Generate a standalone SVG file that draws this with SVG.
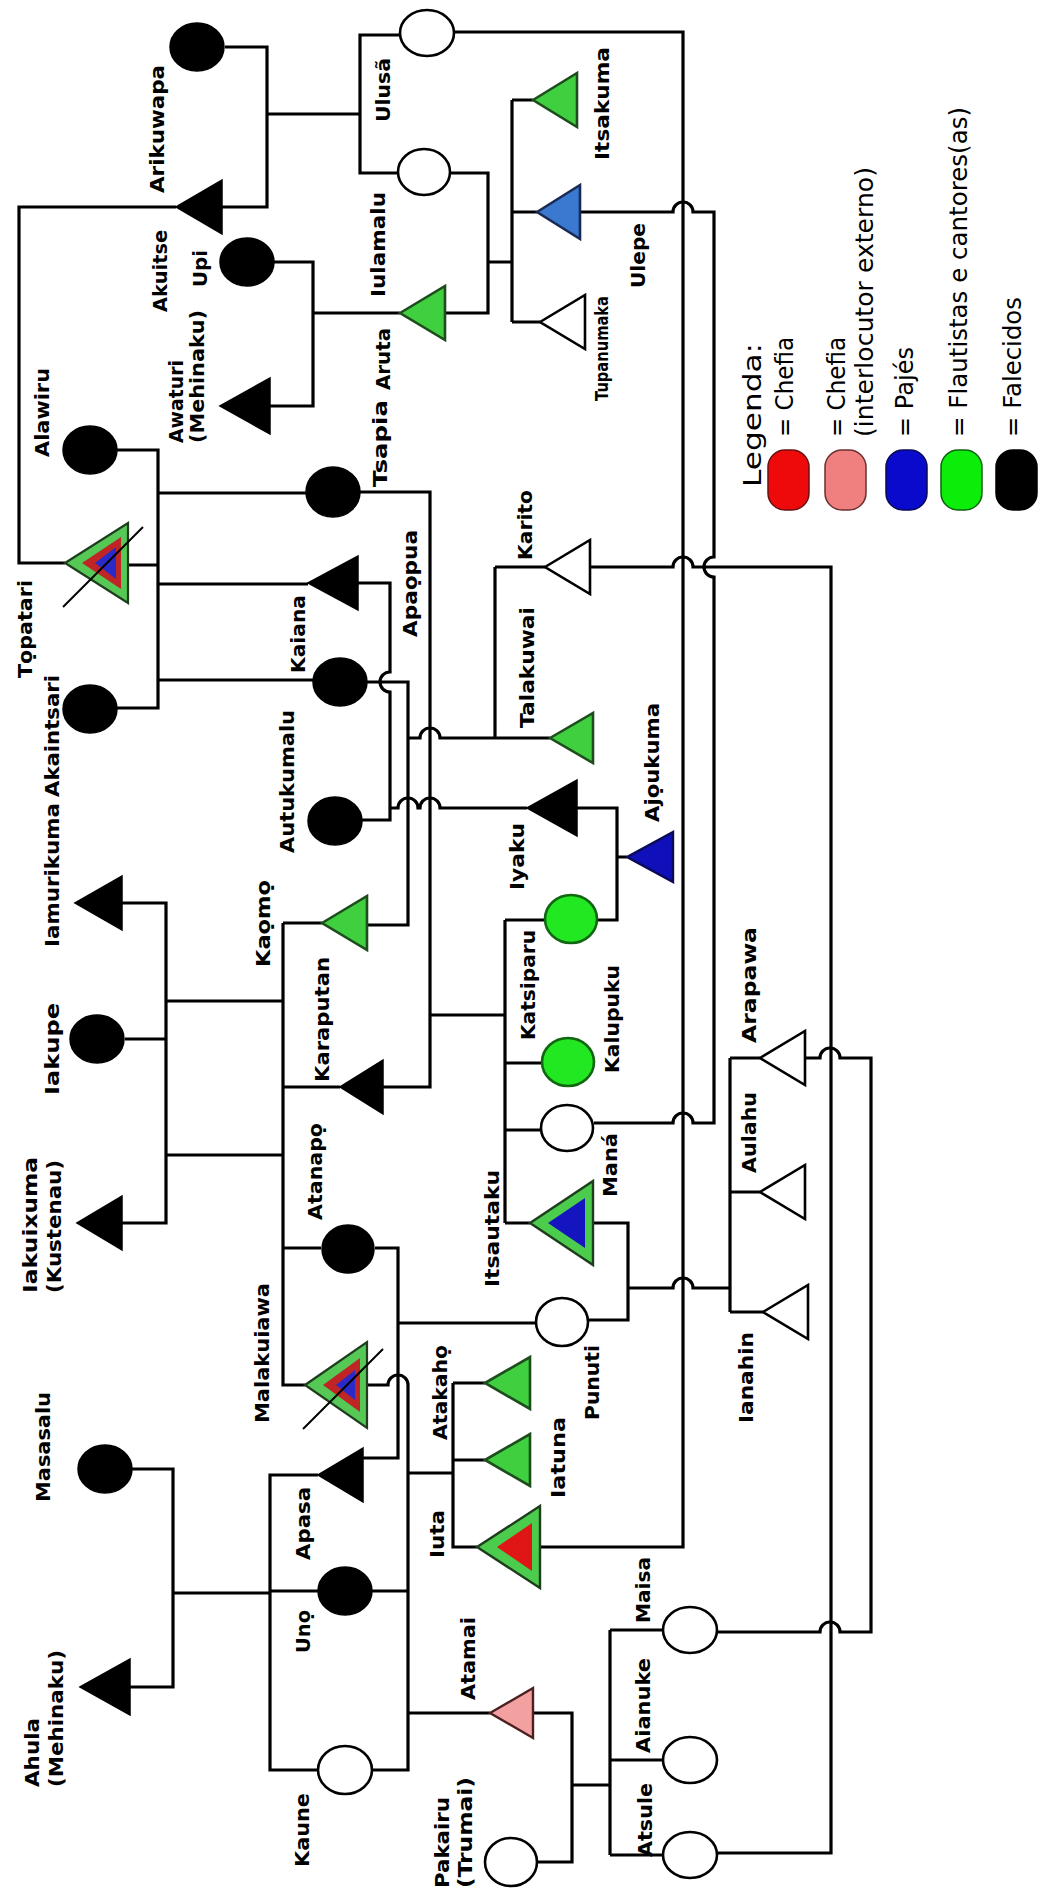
<svg xmlns="http://www.w3.org/2000/svg" width="1043" height="1890" viewBox="0 0 1043 1890">
<style>
.ln{fill:none;stroke:#000;stroke-width:3.2}
.blk{fill:#000;stroke:#000;stroke-width:1.5}
.wht{fill:#fff;stroke:#000;stroke-width:2.6}
.grn{fill:#3fcf3f;stroke:#1d4d1d;stroke-width:2.6}
.gc{fill:#22e822;stroke:#116611;stroke-width:2.6}
.lbl{font-family:"DejaVu Sans","Liberation Sans",sans-serif;font-weight:bold;font-size:20px;fill:#000}
.sm{font-size:18px}
.leg{font-family:"DejaVu Sans","Liberation Sans",sans-serif;font-size:24px;fill:#000}
.dg{stroke:#000;stroke-width:2}
</style>
<rect width="1043" height="1890" fill="#fff"/>
<g id="connectors">
<path class="ln" d="M225,47 H267 V207 H222 M267,114 H360 M400,35 H360 V173 H398 M176,207 H19 V563 H65 M274,262 H313 V406 H270 M313,313 H400 M451,173 H488 V313 H445 M488,262 H512 M512,100 V322 M512,100 H533 M512,212 H537 M512,322 H540"/>
<path class="ln" d="M454,32 H683 V1547 H540"/>
<path class="ln" d="M580,212 H673 A10,10 0 0 1 693,212 H714 V557 A10,10 0 0 0 714,577 V1123 H693 A10,10 0 0 0 673,1123 H594"/>
<path class="ln" d="M590,567 H673 A10,10 0 0 1 693,567 H831 V1853 H717"/>
<path class="ln" d="M117,450 H158 V708 H117 M128,565 H158 M158,493 H306 M158,584 H308 M158,680 H313"/>
<path class="ln" d="M360,492 H430 V1087 H383"/>
<path class="ln" d="M358,583 H390 V672 A10,10 0 0 0 390,692 V820 H362"/>
<path class="ln" d="M367,682 H408 V925 H367"/>
<path class="ln" d="M408,738 H420 A10,10 0 0 1 440,738 H550 M495,567 V738 M495,567 H545"/>
<path class="ln" d="M390,808 H398 A10,10 0 0 1 418,808 H420 A10,10 0 0 1 440,808 H527"/>
<path class="ln" d="M577,808 H617 V920 H598 M617,857 H627"/>
<path class="ln" d="M430,1015 H505 M505,920 V1223 M505,920 H544 M505,1063 H541 M505,1130 H540 M505,1223 H530"/>
<path class="ln" d="M593,1223 H628 V1320 H589"/>
<path class="ln" d="M628,1288 H673 A10,10 0 0 1 693,1288 H730 M730,1058 V1312 M730,1058 H760 M730,1192 H760 M730,1312 H763"/>
<path class="ln" d="M805,1058 H820 A10,10 0 0 1 840,1058 H871 V1632 H840 A10,10 0 0 0 820,1632 H717"/>
<path class="ln" d="M122,903 H166 V1223 H122 M125,1039 H166 M166,1001 H283 M166,1155 H283"/>
<path class="ln" d="M283,923 V1385 H305 M283,923 H322 M283,1087 H340 M283,1248 H321"/>
<path class="ln" d="M375,1248 H398 V1458 H363 M398,1323 H535"/>
<path class="ln" d="M367,1385 H388 A10,10 0 0 1 408,1385 V1770 H372 M408,1591 H372 M408,1713 H490 M408,1473 H453"/>
<path class="ln" d="M453,1383 V1547 H477 M453,1383 H485 M453,1460 H485"/>
<path class="ln" d="M132,1469 H173 V1687 H130 M173,1593 H270 M318,1475 H270 V1770 H318 M270,1591 H318"/>
<path class="ln" d="M533,1713 H572 V1862 H538 M572,1785 H610 M610,1630 V1855 M610,1630 H663 M610,1760 H663 M610,1855 H663"/>
</g>
<g id="arikuwapa"><ellipse class="blk" cx="197" cy="47" rx="27" ry="24"/><text class="lbl" transform="rotate(-90)" x="-193" y="164" textLength="128" lengthAdjust="spacingAndGlyphs">Arikuwapa</text></g>
<g id="akuitse"><polygon class="blk" points="176,207 222,180 222,234"/><text class="lbl" transform="rotate(-90)" x="-312" y="167" textLength="82" lengthAdjust="spacingAndGlyphs">Akuitse</text></g>
<g id="upi"><ellipse class="blk" cx="247" cy="262" rx="27" ry="24"/><text class="lbl" transform="rotate(-90)" x="-287" y="207" textLength="37" lengthAdjust="spacingAndGlyphs">Upi</text></g>
<g id="awaturi"><polygon class="blk" points="220,406 270,378 270,434"/><text class="lbl" transform="rotate(-90)" x="-443" y="183" textLength="83" lengthAdjust="spacingAndGlyphs">Awaturi</text><text class="lbl" transform="rotate(-90)" x="-443" y="204" textLength="133" lengthAdjust="spacingAndGlyphs">(Mehinaku)</text></g>
<g id="alawiru"><ellipse class="blk" cx="90" cy="450" rx="27" ry="24"/><text class="lbl" transform="rotate(-90)" x="-457" y="49" textLength="89" lengthAdjust="spacingAndGlyphs">Alawiru</text></g>
<g id="ulusa"><ellipse class="wht" cx="427" cy="33" rx="27" ry="23"/><text class="lbl" transform="rotate(-90)" x="-122" y="390" textLength="64" lengthAdjust="spacingAndGlyphs">Ulusã</text></g>
<g id="iulamalu"><ellipse class="wht" cx="424" cy="172" rx="26" ry="23"/><text class="lbl" transform="rotate(-90)" x="-297" y="385" textLength="105" lengthAdjust="spacingAndGlyphs">Iulamalu</text></g>
<g id="aruta"><polygon class="grn" points="400,313 445,286 445,340"/><text class="lbl" transform="rotate(-90)" x="-390" y="390" textLength="62" lengthAdjust="spacingAndGlyphs">Aruta</text></g>
<g id="itsakuma"><polygon class="grn" points="533,100 577,73 577,127"/><text class="lbl" transform="rotate(-90)" x="-160" y="609" textLength="113" lengthAdjust="spacingAndGlyphs">Itsakuma</text></g>
<g id="ulepe"><polygon fill="#3b78d0" stroke="#1a2a55" stroke-width="2.6" points="537,212 580,185 580,239"/><text class="lbl" transform="rotate(-90)" x="-288" y="645" textLength="65" lengthAdjust="spacingAndGlyphs">Ulepe</text></g>
<g id="tupanumaka"><polygon class="wht" points="540,322 585,295 585,349"/><text class="lbl sm" transform="rotate(-90)" x="-401" y="608" textLength="105" lengthAdjust="spacingAndGlyphs">Tupanumaka</text></g>
<g id="tsapia"><ellipse class="blk" cx="333" cy="492" rx="27" ry="25"/><text class="lbl" transform="rotate(-90)" x="-487" y="387" textLength="87" lengthAdjust="spacingAndGlyphs">Tsapia</text></g>
<g id="topatari"><polygon fill="#55c855" stroke="#1d3d1d" stroke-width="2.2" points="65,563 128,523 128,603"/><polygon fill="#c02525" points="82,563 121,537 121,589"/><polygon fill="#2a2ac8" points="95,563 116,547 116,579"/><line class="dg" x1="63" y1="607" x2="143" y2="527"/><text class="lbl" transform="rotate(-90)" x="-678" y="32" textLength="98" lengthAdjust="spacingAndGlyphs">Tọpatari</text></g>
<g id="akaintsari"><ellipse class="blk" cx="90" cy="709" rx="27" ry="24"/><text class="lbl" transform="rotate(-90)" x="-797" y="59" textLength="122" lengthAdjust="spacingAndGlyphs">Akaintsari</text></g>
<g id="iamurikuma"><polygon class="blk" points="75,903 122,876 122,930"/><text class="lbl" transform="rotate(-90)" x="-947" y="59" textLength="144" lengthAdjust="spacingAndGlyphs">Iamurikuma</text></g>
<g id="apaqpua"><polygon class="blk" points="308,583 358,556 358,610"/><text class="lbl" transform="rotate(-90)" x="-637" y="417" textLength="107" lengthAdjust="spacingAndGlyphs">Apaọpua</text></g>
<g id="kaiana"><ellipse class="blk" cx="340" cy="682" rx="27" ry="24"/><text class="lbl" transform="rotate(-90)" x="-673" y="305" textLength="78" lengthAdjust="spacingAndGlyphs">Kaiana</text></g>
<g id="autukumalu"><ellipse class="blk" cx="335" cy="821" rx="27" ry="24"/><text class="lbl" transform="rotate(-90)" x="-853" y="294" textLength="143" lengthAdjust="spacingAndGlyphs">Autukumalu</text></g>
<g id="kaomo"><polygon class="grn" points="322,923 367,896 367,950"/><text class="lbl" transform="rotate(-90)" x="-967" y="270" textLength="87" lengthAdjust="spacingAndGlyphs">Kaọmọ</text></g>
<g id="karito"><polygon class="wht" points="545,567 590,540 590,594"/><text class="lbl" transform="rotate(-90)" x="-560" y="532" textLength="70" lengthAdjust="spacingAndGlyphs">Karito</text></g>
<g id="talakuwai"><polygon class="grn" points="550,738 593,713 593,763"/><text class="lbl" transform="rotate(-90)" x="-728" y="534" textLength="121" lengthAdjust="spacingAndGlyphs">Talakuwai</text></g>
<g id="iyaku"><polygon class="blk" points="527,808 577,780 577,836"/><text class="lbl" transform="rotate(-90)" x="-890" y="524" textLength="67" lengthAdjust="spacingAndGlyphs">Iyaku</text></g>
<g id="ajoukuma"><polygon fill="#1010bb" stroke="#0a0a55" stroke-width="2.4" points="627,857 673,832 673,882"/><text class="lbl" transform="rotate(-90)" x="-822" y="659" textLength="119" lengthAdjust="spacingAndGlyphs">Ajọukuma</text></g>
<g id="katsiparu"><ellipse class="gc" cx="571" cy="919" rx="26" ry="24"/><text class="lbl" transform="rotate(-90)" x="-1040" y="535" textLength="110" lengthAdjust="spacingAndGlyphs">Katsiparu</text></g>
<g id="iakupe"><ellipse class="blk" cx="97" cy="1039" rx="27" ry="24"/><text class="lbl" transform="rotate(-90)" x="-1095" y="59" textLength="92" lengthAdjust="spacingAndGlyphs">Iakupe</text></g>
<g id="iakuixuma"><polygon class="blk" points="77,1223 122,1196 122,1250"/><text class="lbl" transform="rotate(-90)" x="-1293" y="37" textLength="136" lengthAdjust="spacingAndGlyphs">Iakuixuma</text><text class="lbl" transform="rotate(-90)" x="-1293" y="61" textLength="133" lengthAdjust="spacingAndGlyphs">(Kustenau)</text></g>
<g id="karaputan"><polygon class="blk" points="340,1087 383,1060 383,1114"/><text class="lbl" transform="rotate(-90)" x="-1082" y="329" textLength="125" lengthAdjust="spacingAndGlyphs">Karaputan</text></g>
<g id="kalupuku"><ellipse class="gc" cx="568" cy="1062" rx="26" ry="24"/><text class="lbl" transform="rotate(-90)" x="-1073" y="619" textLength="108" lengthAdjust="spacingAndGlyphs">Kalupuku</text></g>
<g id="mana"><ellipse class="wht" cx="567" cy="1128" rx="26" ry="23"/><text class="lbl" transform="rotate(-90)" x="-1197" y="617" textLength="64" lengthAdjust="spacingAndGlyphs">Maná</text></g>
<g id="atanapo"><ellipse class="blk" cx="348" cy="1249" rx="26" ry="24"/><text class="lbl" transform="rotate(-90)" x="-1220" y="322" textLength="97" lengthAdjust="spacingAndGlyphs">Atanapọ</text></g>
<g id="itsautaku"><polygon fill="#4ccc4c" stroke="#1d3d1d" stroke-width="2.4" points="530,1223 593,1181 593,1265"/><polygon fill="#1515c0" points="548,1223 585,1198 585,1248"/><text class="lbl" transform="rotate(-90)" x="-1287" y="499" textLength="117" lengthAdjust="spacingAndGlyphs">Itsautaku</text></g>
<g id="punuti"><ellipse class="wht" cx="562" cy="1322" rx="26" ry="24"/><text class="lbl" transform="rotate(-90)" x="-1420" y="599" textLength="75" lengthAdjust="spacingAndGlyphs">Punuti</text></g>
<g id="arapawa"><polygon class="wht" points="760,1058 805,1031 805,1085"/><text class="lbl" transform="rotate(-90)" x="-1043" y="756" textLength="116" lengthAdjust="spacingAndGlyphs">Arapawa</text></g>
<g id="aulahu"><polygon class="wht" points="760,1192 805,1165 805,1219"/><text class="lbl" transform="rotate(-90)" x="-1173" y="756" textLength="81" lengthAdjust="spacingAndGlyphs">Aulahu</text></g>
<g id="ianahin"><polygon class="wht" points="763,1312 808,1285 808,1339"/><text class="lbl" transform="rotate(-90)" x="-1423" y="753" textLength="91" lengthAdjust="spacingAndGlyphs">Ianahin</text></g>
<g id="malakuiawa"><polygon fill="#55c855" stroke="#1d3d1d" stroke-width="2.2" points="305,1385 367,1342 367,1428"/><polygon fill="#c02525" points="323,1385 360,1358 360,1412"/><polygon fill="#2a2ac8" points="336,1385 355,1370 355,1400"/><line class="dg" x1="303" y1="1429" x2="383" y2="1349"/><text class="lbl" transform="rotate(-90)" x="-1423" y="269" textLength="140" lengthAdjust="spacingAndGlyphs">Malakuiawa</text></g>
<g id="atakaho"><polygon class="grn" points="485,1383 530,1357 530,1409"/><text class="lbl" transform="rotate(-90)" x="-1440" y="447" textLength="95" lengthAdjust="spacingAndGlyphs">Atakahọ</text></g>
<g id="iatuna"><polygon class="grn" points="485,1460 530,1434 530,1486"/><text class="lbl" transform="rotate(-90)" x="-1498" y="565" textLength="81" lengthAdjust="spacingAndGlyphs">Iatuna</text></g>
<g id="iuta"><polygon fill="#4ccc4c" stroke="#1d3d1d" stroke-width="2.4" points="477,1547 540,1506 540,1588"/><polygon fill="#e01515" points="497,1547 532,1523 532,1571"/><text class="lbl" transform="rotate(-90)" x="-1558" y="444" textLength="48" lengthAdjust="spacingAndGlyphs">Iuta</text></g>
<g id="masasalu"><ellipse class="blk" cx="105" cy="1469" rx="27" ry="24"/><text class="lbl" transform="rotate(-90)" x="-1502" y="50" textLength="110" lengthAdjust="spacingAndGlyphs">Masasalu</text></g>
<g id="ahula"><polygon class="blk" points="80,1687 130,1659 130,1715"/><text class="lbl" transform="rotate(-90)" x="-1787" y="39" textLength="69" lengthAdjust="spacingAndGlyphs">Ahula</text><text class="lbl" transform="rotate(-90)" x="-1787" y="63" textLength="137" lengthAdjust="spacingAndGlyphs">(Mehinaku)</text></g>
<g id="apasa"><polygon class="blk" points="318,1475 363,1448 363,1502"/><text class="lbl" transform="rotate(-90)" x="-1560" y="310" textLength="73" lengthAdjust="spacingAndGlyphs">Apasa</text></g>
<g id="uno"><ellipse class="blk" cx="345" cy="1591" rx="27" ry="24"/><text class="lbl" transform="rotate(-90)" x="-1653" y="310" textLength="43" lengthAdjust="spacingAndGlyphs">Unọ</text></g>
<g id="kaune"><ellipse class="wht" cx="345" cy="1770" rx="27" ry="24"/><text class="lbl" transform="rotate(-90)" x="-1867" y="309" textLength="74" lengthAdjust="spacingAndGlyphs">Kaune</text></g>
<g id="atamai"><polygon fill="#f2a0a0" stroke="#4a2020" stroke-width="2.4" points="490,1713 533,1688 533,1738"/><text class="lbl" transform="rotate(-90)" x="-1700" y="475" textLength="83" lengthAdjust="spacingAndGlyphs">Atamai</text></g>
<g id="pakairu"><ellipse class="wht" cx="511" cy="1862" rx="26" ry="24"/><text class="lbl" transform="rotate(-90)" x="-1888" y="449" textLength="91" lengthAdjust="spacingAndGlyphs">Pakairu</text><text class="lbl" transform="rotate(-90)" x="-1888" y="472" textLength="111" lengthAdjust="spacingAndGlyphs">(Trumai)</text></g>
<g id="maisa"><ellipse class="wht" cx="690" cy="1630" rx="27" ry="23"/><text class="lbl" transform="rotate(-90)" x="-1623" y="650" textLength="66" lengthAdjust="spacingAndGlyphs">Maisa</text></g>
<g id="aianuke"><ellipse class="wht" cx="690" cy="1760" rx="27" ry="23"/><text class="lbl" transform="rotate(-90)" x="-1753" y="650" textLength="95" lengthAdjust="spacingAndGlyphs">Aianuke</text></g>
<g id="atsule"><ellipse class="wht" cx="690" cy="1855" rx="27" ry="23"/><text class="lbl" transform="rotate(-90)" x="-1857" y="652" textLength="74" lengthAdjust="spacingAndGlyphs">Atsule</text></g>
<g id="legend">
<text class="leg" transform="rotate(-90)" x="-487" y="761" textLength="144" lengthAdjust="spacingAndGlyphs">Legenda:</text>
<rect x="768" y="450" width="41" height="60" rx="17" fill="#ee0a0a" stroke="#6a1010" stroke-width="1.5"/>
<text class="leg" transform="rotate(-90)" x="-437" y="793" textLength="100" lengthAdjust="spacingAndGlyphs">= Chefia</text>
<rect x="825" y="450" width="41" height="60" rx="17" fill="#f08080" stroke="#6a3030" stroke-width="1.5"/>
<text class="leg" transform="rotate(-90)" x="-437" y="845" textLength="100" lengthAdjust="spacingAndGlyphs">= Chefia</text>
<text class="leg" transform="rotate(-90)" x="-437" y="873" textLength="270" lengthAdjust="spacingAndGlyphs">(interlocutor externo)</text>
<rect x="886" y="450" width="41" height="60" rx="17" fill="#0a0acc" stroke="#0a0a55" stroke-width="1.5"/>
<text class="leg" transform="rotate(-90)" x="-437" y="913" textLength="90" lengthAdjust="spacingAndGlyphs">= Pajés</text>
<rect x="941" y="450" width="41" height="60" rx="17" fill="#0aee0a" stroke="#106010" stroke-width="1.5"/>
<text class="leg" transform="rotate(-90)" x="-437" y="967" textLength="330" lengthAdjust="spacingAndGlyphs">= Flautistas e cantores(as)</text>
<rect x="996" y="450" width="41" height="60" rx="17" fill="#000" stroke="#000" stroke-width="1.5"/>
<text class="leg" transform="rotate(-90)" x="-437" y="1021" textLength="140" lengthAdjust="spacingAndGlyphs">= Falecidos</text>
</g>
</svg>
